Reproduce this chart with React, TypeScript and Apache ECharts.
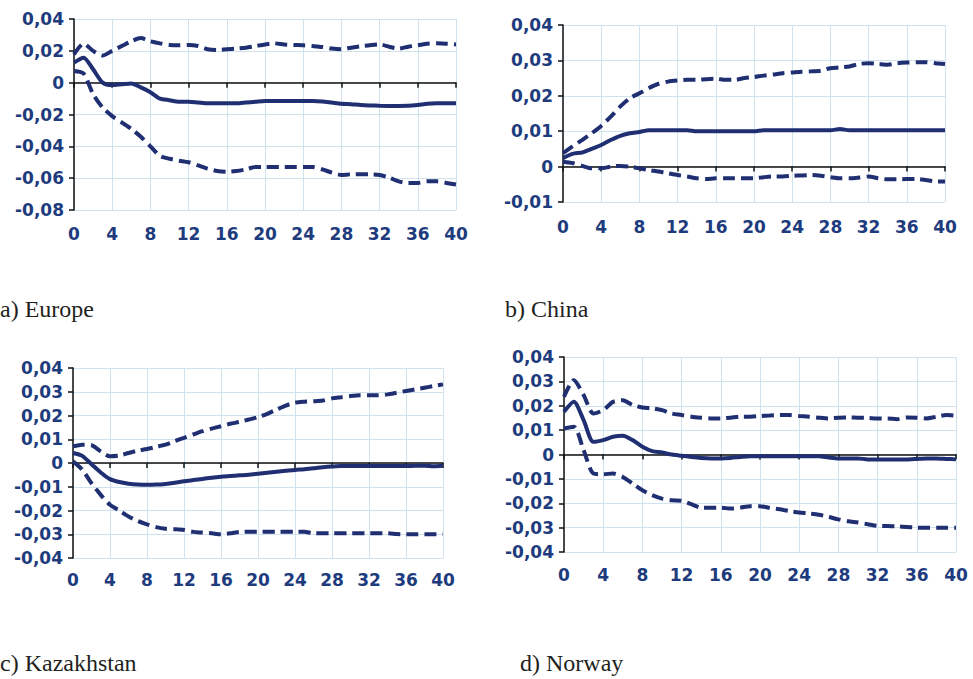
import React, { useEffect, useRef } from "react";
import * as echarts from "echarts";

// Horizon (periods 0..40)
const periods: number[] = Array.from({ length: 41 }, (_, i) => i);
const xTicks: number[] = [0, 4, 8, 12, 16, 20, 24, 28, 32, 36, 40];

// a) Europe
const europeIrf = [0.0126, 0.0157, 0.0084, 0.0, -0.0015, -0.001, -0.0005, -0.003, -0.006, -0.01, -0.011, -0.012, -0.012, -0.0125, -0.013, -0.013, -0.013, -0.013, -0.0125, -0.012, -0.0115, -0.0115, -0.0115, -0.0115, -0.0115, -0.0115, -0.0118, -0.0125, -0.0132, -0.0135, -0.014, -0.0143, -0.0145, -0.0146, -0.0146, -0.0145, -0.014, -0.0133, -0.013, -0.013, -0.013];
const europeUpper = [0.0178, 0.0245, 0.02, 0.017, 0.02, 0.023, 0.026, 0.028, 0.026, 0.0247, 0.0237, 0.0235, 0.0237, 0.023, 0.021, 0.0205, 0.021, 0.0214, 0.022, 0.023, 0.024, 0.0247, 0.024, 0.0237, 0.0235, 0.023, 0.0224, 0.0214, 0.021, 0.022, 0.0228, 0.0235, 0.024, 0.0226, 0.0214, 0.0226, 0.0235, 0.0245, 0.0247, 0.0245, 0.024];
const europeLower = [0.0073, 0.0057, -0.0073, -0.0157, -0.021, -0.025, -0.029, -0.034, -0.04, -0.046, -0.0478, -0.049, -0.05, -0.052, -0.054, -0.0555, -0.056, -0.0555, -0.0545, -0.053, -0.053, -0.053, -0.053, -0.053, -0.053, -0.053, -0.0545, -0.0565, -0.058, -0.0576, -0.0576, -0.0576, -0.058, -0.0597, -0.062, -0.063, -0.063, -0.062, -0.062, -0.063, -0.064];

// b) China
const chinaIrf = [0.0024, 0.0036, 0.004, 0.005, 0.0061, 0.0075, 0.0087, 0.0094, 0.0098, 0.0103, 0.0103, 0.0103, 0.0103, 0.0103, 0.01, 0.01, 0.01, 0.01, 0.01, 0.01, 0.01, 0.0103, 0.0103, 0.0103, 0.0103, 0.0103, 0.0103, 0.0103, 0.0103, 0.0106, 0.0103, 0.0103, 0.0103, 0.0103, 0.0103, 0.0103, 0.0103, 0.0103, 0.0103, 0.0103, 0.0103];
const chinaUpper = [0.0038, 0.0057, 0.0075, 0.0094, 0.0115, 0.0141, 0.017, 0.0193, 0.0207, 0.0222, 0.0234, 0.024, 0.0243, 0.0245, 0.0245, 0.0247, 0.0248, 0.0245, 0.0245, 0.025, 0.0253, 0.0257, 0.026, 0.0264, 0.0266, 0.0268, 0.0269, 0.0271, 0.0278, 0.028, 0.0283, 0.029, 0.0292, 0.029, 0.0288, 0.0292, 0.0294, 0.0295, 0.0295, 0.0292, 0.029];
const chinaLower = [0.0014, 0.001, 0.0002, -0.0005, -0.0005, 0.0, 0.0002, 0.0, -0.0005, -0.001, -0.0014, -0.0019, -0.0024, -0.0028, -0.0033, -0.0035, -0.0033, -0.0033, -0.0033, -0.0033, -0.0033, -0.003, -0.0028, -0.0028, -0.0026, -0.0025, -0.0024, -0.0026, -0.003, -0.0033, -0.0033, -0.0031, -0.0028, -0.0033, -0.0036, -0.0036, -0.0035, -0.0035, -0.0038, -0.0042, -0.0042];

// c) Kazakhstan
const kazakhstanIrf = [0.0042, 0.003, -0.0005, -0.004, -0.0068, -0.008, -0.0087, -0.0091, -0.0092, -0.0091, -0.0088, -0.0083, -0.0077, -0.0072, -0.0067, -0.0062, -0.0058, -0.0055, -0.0052, -0.0049, -0.0045, -0.0041, -0.0037, -0.0033, -0.0029, -0.0026, -0.0022, -0.0018, -0.0015, -0.0013, -0.0013, -0.0013, -0.0013, -0.0013, -0.0013, -0.0013, -0.0013, -0.0012, -0.0012, -0.0014, -0.0012];
const kazakhstanUpper = [0.007, 0.0077, 0.0075, 0.0049, 0.0028, 0.0031, 0.0042, 0.0052, 0.0059, 0.0068, 0.0077, 0.0092, 0.0106, 0.012, 0.0134, 0.0145, 0.0155, 0.0165, 0.0173, 0.0183, 0.0193, 0.0207, 0.0225, 0.0242, 0.0254, 0.0258, 0.026, 0.0263, 0.0272, 0.0277, 0.0282, 0.0285, 0.0285, 0.0285, 0.0289, 0.0296, 0.0303, 0.031, 0.0317, 0.0324, 0.0331];
const kazakhstanLower = [0.0007, -0.0028, -0.0085, -0.0134, -0.0176, -0.02, -0.0225, -0.0244, -0.0258, -0.027, -0.0277, -0.0279, -0.0282, -0.029, -0.0293, -0.0296, -0.03, -0.0296, -0.029, -0.0289, -0.0289, -0.0289, -0.0289, -0.0289, -0.0289, -0.0289, -0.0296, -0.0296, -0.0296, -0.0296, -0.0296, -0.0296, -0.0296, -0.0296, -0.0296, -0.0299, -0.03, -0.03, -0.03, -0.03, -0.03];

// d) Norway
const norwayIrf = [0.0175, 0.0216, 0.0141, 0.0052, 0.0059, 0.0073, 0.0077, 0.0059, 0.0032, 0.0014, 0.0008, 0.0, -0.0005, -0.001, -0.0014, -0.0016, -0.0016, -0.0014, -0.001, -0.0007, -0.0007, -0.0007, -0.0007, -0.0007, -0.0007, -0.0007, -0.0007, -0.0012, -0.0016, -0.0016, -0.0016, -0.002, -0.002, -0.002, -0.002, -0.002, -0.0018, -0.0016, -0.0016, -0.0018, -0.002];
const norwayUpper = [0.0237, 0.0305, 0.0244, 0.0168, 0.0182, 0.0216, 0.0223, 0.0203, 0.0193, 0.0189, 0.0182, 0.0168, 0.0162, 0.0155, 0.0151, 0.0148, 0.0148, 0.0151, 0.0155, 0.0155, 0.0158, 0.016, 0.0162, 0.0162, 0.0158, 0.0155, 0.0151, 0.0148, 0.0151, 0.0152, 0.0151, 0.015, 0.0148, 0.0148, 0.0145, 0.0152, 0.0151, 0.0148, 0.0155, 0.0162, 0.0159];
const norwayLower = [0.0107, 0.0114, 0.0018, -0.0078, -0.0081, -0.0078, -0.0092, -0.0119, -0.0147, -0.0167, -0.0181, -0.0188, -0.019, -0.0204, -0.0218, -0.0218, -0.0218, -0.0222, -0.0218, -0.0212, -0.0212, -0.0219, -0.0225, -0.0232, -0.0238, -0.0242, -0.0247, -0.0256, -0.0266, -0.0274, -0.0279, -0.0286, -0.0293, -0.0293, -0.0295, -0.0297, -0.03, -0.03, -0.03, -0.03, -0.03];

// Captions
const captions = ["a) Europe", "b) China", "c) Kazakhstan", "d) Norway"];

// Y ranges per panel
const yMins = [-0.08, -0.01, -0.04, -0.04];
const yMaxs = [0.04, 0.04, 0.04, 0.04];
const ySteps = [0.02, 0.01, 0.01, 0.01];

const panelData = [
  { irf: europeIrf, upper: europeUpper, lower: europeLower },
  { irf: chinaIrf, upper: chinaUpper, lower: chinaLower },
  { irf: kazakhstanIrf, upper: kazakhstanUpper, lower: kazakhstanLower },
  { irf: norwayIrf, upper: norwayUpper, lower: norwayLower },
];

// Layout (pixels)
const layout = [
  { left: 74, top: 19, width: 382, height: 191, xMargin: 15, capX: 0, capY: 309 },
  { left: 563, top: 25, width: 382, height: 177, xMargin: 16, capX: 505, capY: 309 },
  { left: 73, top: 368, width: 370, height: 190, xMargin: 13, capX: 0, capY: 663 },
  { left: 564, top: 357, width: 392, height: 195, xMargin: 14, capX: 520, capY: 663 },
];

const NAVY = "#1f2f72";
const LABEL = "#1d3b7d";
const GRID = "#cfe2ee";
const LABEL_FONT = "DejaVu Sans";

const fmtY = (v: number) => {
  const r = Math.round(v * 100) / 100;
  return r === 0 ? "0" : r.toFixed(2).replace(".", ",");
};

export default function App() {
  const ref = useRef<HTMLDivElement>(null);

  useEffect(() => {
    if (!ref.current) return;
    const chart = echarts.init(ref.current, null, { renderer: "svg" });

    const grids: any[] = [];
    const xAxes: any[] = [];
    const yAxes: any[] = [];
    const series: any[] = [];
    const graphics: any[] = [];

    layout.forEach((l, i) => {
      grids.push({ left: l.left, top: l.top, width: l.width, height: l.height, containLabel: false });
      // bottom axis with labels + vertical gridlines
      xAxes.push({
        type: "value",
        gridIndex: i,
        position: "bottom",
        min: xTicks[0],
        max: xTicks[xTicks.length - 1],
        interval: 4,
        axisLine: { show: false, onZero: false },
        axisTick: { show: false },
        axisLabel: {
          show: true,
          margin: l.xMargin,
          color: LABEL,
          fontFamily: LABEL_FONT,
          fontWeight: "bold",
          fontSize: 17,
        },
        splitLine: { show: true, lineStyle: { color: GRID, width: 1 } },
      });
      // zero line with ticks
      xAxes.push({
        type: "value",
        gridIndex: i,
        position: "bottom",
        min: xTicks[0],
        max: xTicks[xTicks.length - 1],
        interval: 4,
        axisLine: { show: true, onZero: true, lineStyle: { color: "#111", width: 1.5 } },
        axisTick: { show: true, length: 5, inside: false, lineStyle: { color: "#111", width: 1.5 } },
        axisLabel: { show: false },
        splitLine: { show: false },
      });
      yAxes.push({
        type: "value",
        gridIndex: i,
        min: yMins[i],
        max: yMaxs[i],
        interval: ySteps[i],
        axisLine: { show: true, onZero: false, lineStyle: { color: "#111", width: 1.5 } },
        axisTick: { show: true, length: 5, lineStyle: { color: "#111", width: 1.5 } },
        axisLabel: {
          margin: 10,
          color: LABEL,
          fontFamily: LABEL_FONT,
          fontWeight: "bold",
          fontSize: 17,
          formatter: fmtY,
        },
        splitLine: { show: true, lineStyle: { color: GRID, width: 1 } },
      });

      const d = panelData[i];
      const mk = (vals: number[], dashed: boolean, name: string) => ({
        type: "line",
        name,
        xAxisIndex: i * 2,
        yAxisIndex: i,
        data: vals.map((v, k) => [periods[k], v]),
        symbol: "none",
        showSymbol: false,
        smooth: 0.25,
        z: 5,
        lineStyle: {
          color: NAVY,
          width: 4,
          type: dashed ? [12, 6] : "solid",
          cap: "butt",
        },
      });
      series.push(mk(d.upper, true, captions[i] + " upper"));
      series.push(mk(d.lower, true, captions[i] + " lower"));
      series.push(mk(d.irf, false, captions[i] + " response"));

      graphics.push({
        type: "text",
        x: l.capX,
        y: l.capY,
        style: {
          text: captions[i],
          font: '24px "Liberation Serif", "Times New Roman", serif',
          fill: "#231f20",
          verticalAlign: "middle",
          align: "left",
        },
      });
    });

    chart.setOption({
      animation: false,
      backgroundColor: "#ffffff",
      grid: grids,
      xAxis: xAxes,
      yAxis: yAxes,
      series,
      graphic: graphics,
    });

    return () => chart.dispose();
  }, []);

  return (
    <div
      ref={ref}
      style={{ position: "fixed", left: 0, top: 0, width: 973, height: 679, background: "#fff" }}
    />
  );
}
